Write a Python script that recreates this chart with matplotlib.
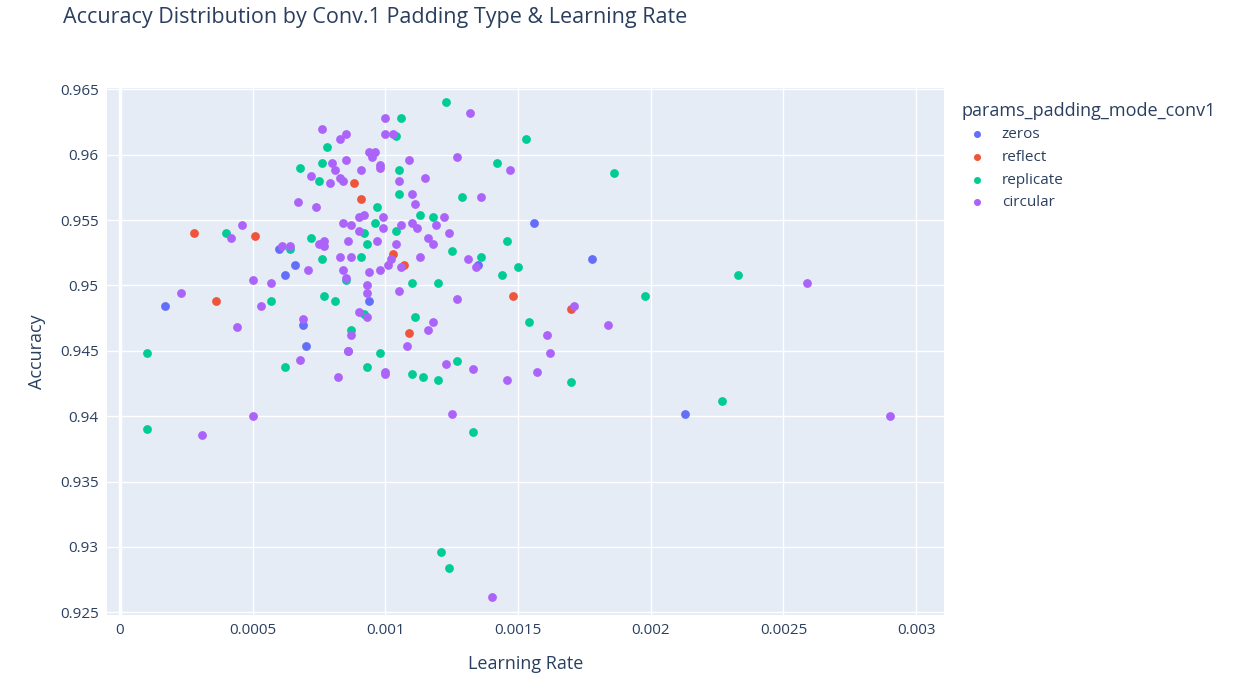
import matplotlib.pyplot as plt

# valeurs
zeros_x = [0.00017, 0.0006, 0.00062, 0.00066, 0.00069, 0.0007, 0.00086, 0.00094, 0.00135, 0.00156, 0.00178, 0.00213]
zeros_y = [0.9484, 0.9528, 0.9508, 0.9516, 0.947, 0.9454, 0.945, 0.9488, 0.9516, 0.9548, 0.952, 0.9402]

reflect_x = [0.00028, 0.00036, 0.00051, 0.00088, 0.00091, 0.00103, 0.00107, 0.00109, 0.00148, 0.0017]
reflect_y = [0.954, 0.9488, 0.9538, 0.9578, 0.9566, 0.9524, 0.9516, 0.9464, 0.9492, 0.9482]

replicate_x = [0.0001, 0.0001, 0.0004, 0.00057, 0.00062, 0.00064, 0.00068, 0.00072, 0.00075, 0.00076,
               0.00076, 0.00077, 0.00078, 0.00081, 0.00085, 0.00087, 0.00091, 0.00092, 0.00092, 0.00093,
               0.00093, 0.00096, 0.00097, 0.00098, 0.00104, 0.00106, 0.00105, 0.00105, 0.00104, 0.0011,
               0.0011, 0.00111, 0.00113, 0.00114, 0.00118, 0.0012, 0.0012, 0.00121, 0.00123, 0.00124,
               0.00125, 0.00127, 0.00129, 0.00133, 0.00136, 0.00142, 0.00144, 0.00146, 0.0015, 0.00153,
               0.00154, 0.0017, 0.00186, 0.00198, 0.00227, 0.00233]
replicate_y = [0.9448, 0.939, 0.954, 0.9488, 0.9438, 0.9528, 0.959, 0.9536, 0.958, 0.9594,
               0.952, 0.9492, 0.9606, 0.9488, 0.9504, 0.9466, 0.9522, 0.9478, 0.954, 0.9532,
               0.9438, 0.9548, 0.956, 0.9448, 0.9614, 0.9628, 0.957, 0.9588, 0.9542, 0.9502,
               0.9432, 0.9476, 0.9554, 0.943, 0.9552, 0.9502, 0.9428, 0.9296, 0.964, 0.9284,
               0.9526, 0.9442, 0.9568, 0.9388, 0.9522, 0.9594, 0.9508, 0.9534, 0.9514, 0.9612,
               0.9472, 0.9426, 0.9586, 0.9492, 0.9412, 0.9508]

circular_x = [0.00023, 0.00031, 0.00042, 0.00044, 0.00046, 0.0005, 0.0005, 0.00053, 0.00057, 0.00061,
              0.00064, 0.00067, 0.00068, 0.00069, 0.00071, 0.00072, 0.00074, 0.00075, 0.00076, 0.00077,
              0.00077, 0.00079, 0.0008, 0.00081, 0.00082, 0.00083, 0.00083, 0.00083, 0.00084, 0.00084,
              0.00084, 0.00085, 0.00085, 0.00085, 0.00086, 0.00086, 0.00087, 0.00087, 0.00087, 0.0009,
              0.0009, 0.0009, 0.00091, 0.00092, 0.00093, 0.00093, 0.00093, 0.00094, 0.00094, 0.00095,
              0.00096, 0.00097, 0.00098, 0.00098, 0.00098, 0.00099, 0.00099, 0.001, 0.001, 0.001,
              0.001, 0.00101, 0.00102, 0.00103, 0.00104, 0.00105, 0.00105, 0.00106, 0.00106, 0.00108,
              0.00109, 0.0011, 0.0011, 0.00111, 0.00112, 0.00113, 0.00115, 0.00116, 0.00116, 0.00118,
              0.00118, 0.00119, 0.00122, 0.00123, 0.00124, 0.00125, 0.00127, 0.00127, 0.00131, 0.00132,
              0.00133, 0.00134, 0.00136, 0.0014, 0.00146, 0.00147, 0.00157, 0.00161, 0.00162, 0.00171,
              0.00184, 0.00259, 0.0029]
circular_y = [0.9494, 0.9386, 0.9536, 0.9468, 0.9546, 0.9504, 0.94, 0.9484, 0.9502, 0.953,
              0.953, 0.9564, 0.9443, 0.9474, 0.9512, 0.9584, 0.956, 0.9532, 0.962, 0.9534,
              0.953, 0.9578, 0.9594, 0.9588, 0.943, 0.9522, 0.9612, 0.9582, 0.958, 0.9548,
              0.9512, 0.9596, 0.9616, 0.9506, 0.9534, 0.945, 0.9546, 0.9522, 0.9462, 0.9552,
              0.9542, 0.948, 0.9588, 0.9554, 0.95, 0.9494, 0.9476, 0.951, 0.9602, 0.9598,
              0.9602, 0.9534, 0.959, 0.9592, 0.9512, 0.9552, 0.9544, 0.9628, 0.9616, 0.9434,
              0.9432, 0.9516, 0.952, 0.9616, 0.9532, 0.9496, 0.958, 0.9546, 0.9514, 0.9454,
              0.9596, 0.9548, 0.957, 0.9562, 0.9544, 0.9522, 0.9582, 0.9536, 0.9466, 0.9532,
              0.9472, 0.9546, 0.9552, 0.944, 0.954, 0.9402, 0.949, 0.9598, 0.952, 0.9632,
              0.9436, 0.9514, 0.9568, 0.9262, 0.9428, 0.9588, 0.9434, 0.9462, 0.9448, 0.9484,
              0.947, 0.9502, 0.94]

series = [("zeros", zeros_x, zeros_y, "#636efa"),
          ("reflect", reflect_x, reflect_y, "#EF553B"),
          ("replicate", replicate_x, replicate_y, "#00cc96"),
          ("circular", circular_x, circular_y, "#ab63fa")]

plt.rcParams['font.family'] = ['Open Sans', 'DejaVu Sans']
fig = plt.figure(figsize=(12.46, 6.8), dpi=100)
ax = fig.add_axes([107/1246, 1-615/680, (944-107)/1246, (615-88)/680])
ax.set_facecolor("#e5ecf6")
for nome, xs, ys, cor in series:
    ax.scatter(xs, ys, s=40, color=cor, label=nome, zorder=3, linewidths=0)

ax.set_xlim(-0.000049, 0.003105)
ax.set_ylim(0.9248, 0.9651)
ax.set_xticks([0, 0.0005, 0.001, 0.0015, 0.002, 0.0025, 0.003])
ax.set_xticklabels(["0", "0.0005", "0.001", "0.0015", "0.002", "0.0025", "0.003"])
ax.set_yticks([0.925, 0.93, 0.935, 0.94, 0.945, 0.95, 0.955, 0.96, 0.965])
ax.set_yticklabels(["0.925", "0.93", "0.935", "0.94", "0.945", "0.95", "0.955", "0.96", "0.965"])
ax.grid(True, color="white", linewidth=1, zorder=0)
ax.axvline(0, color="white", linewidth=2.5, zorder=1)
for s in ax.spines.values():
    s.set_visible(False)
ax.tick_params(length=0, labelsize=11, colors="#2a3f5f", pad=6)
ax.set_xlabel("Learning Rate", fontsize=13, color="#2a3f5f", labelpad=12)
ax.set_ylabel("Accuracy", fontsize=13, color="#2a3f5f", labelpad=10)
fig.text(63/1246, 1-18/680, "Accuracy Distribution by Conv.1 Padding Type & Learning Rate",
         fontsize=15.5, color="#2a3f5f", va="center")
leg = ax.legend(title="params_padding_mode_conv1", loc="upper left", bbox_to_anchor=(1.005, 1.0),
                frameon=False, fontsize=11, title_fontsize=13, markerscale=0.8,
                handletextpad=0.6, labelspacing=0.5)
leg._legend_box.align = "left"
for t in leg.get_texts():
    t.set_color("#2a3f5f")
leg.get_title().set_color("#2a3f5f")
fig.savefig("out.png", dpi=100)
